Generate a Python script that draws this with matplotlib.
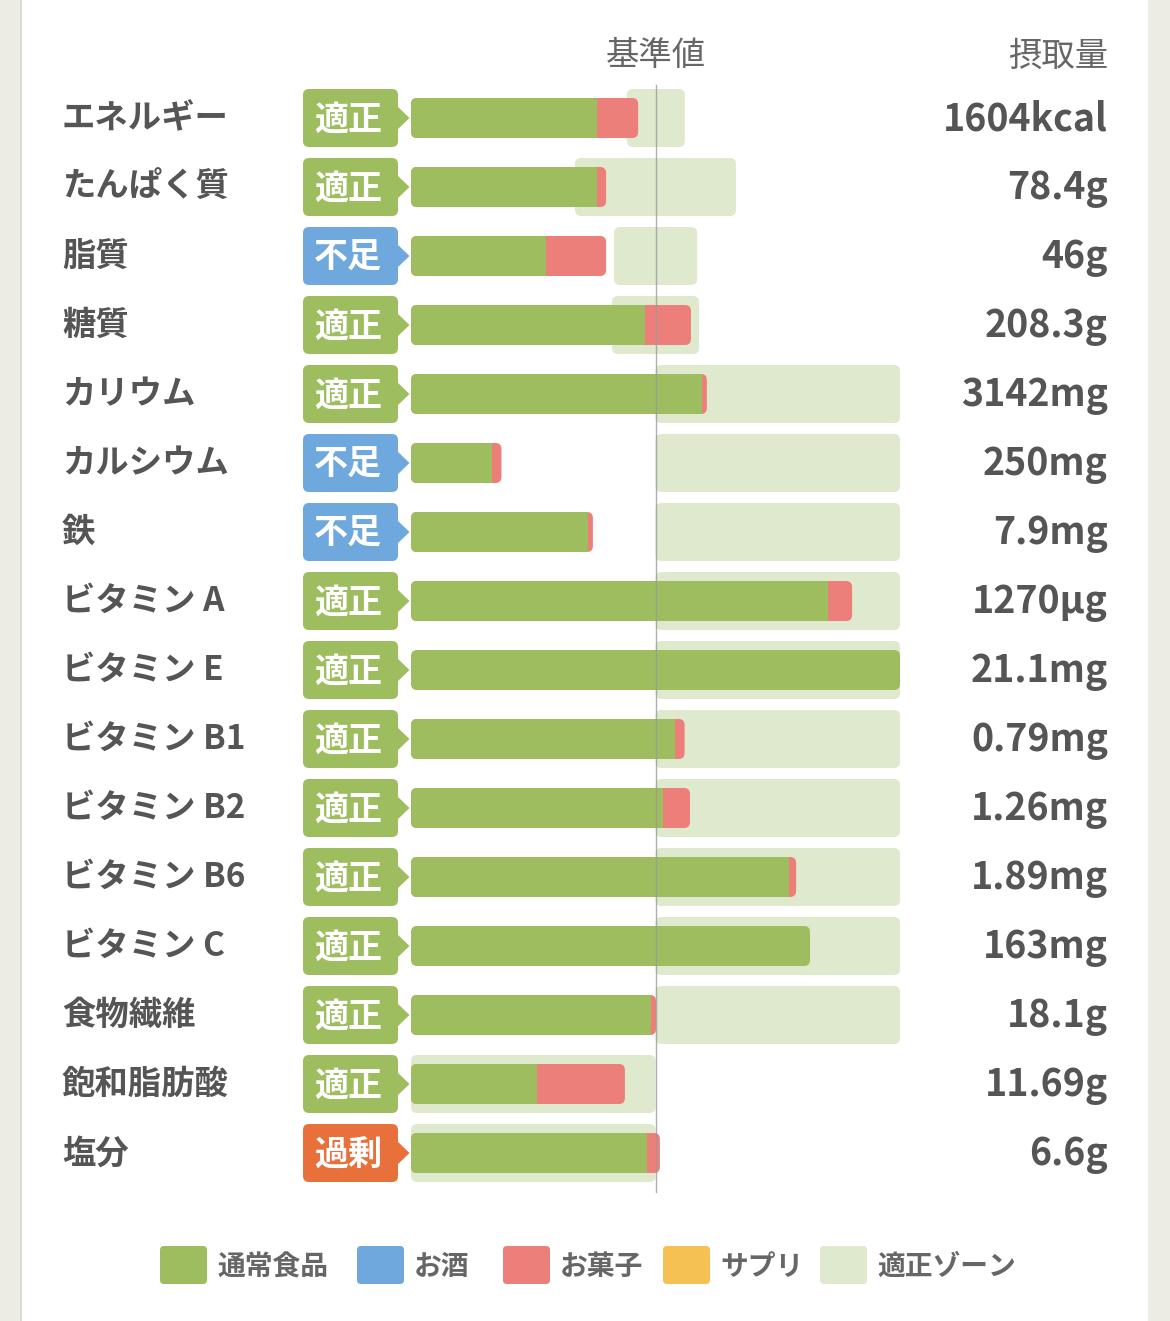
import matplotlib
matplotlib.use("Agg")
import matplotlib.pyplot as plt
from matplotlib.patches import FancyBboxPatch, Rectangle, Polygon

plt.rcParams['font.family'] = ['Noto Sans CJK JP', 'DejaVu Sans']

# ---- data (percent of the reference value) ----
nutrients = ["エネルギー", "たんぱく質", "脂質", "糖質", "カリウム", "カルシウム", "鉄",
             "ビタミン A", "ビタミン E", "ビタミン B1", "ビタミン B2", "ビタミン B6",
             "ビタミン C", "食物繊維", "飽和脂肪酸", "塩分"]
status = ["適正", "適正", "不足", "適正", "適正", "不足", "不足", "適正",
          "適正", "適正", "適正", "適正", "適正", "適正", "適正", "過剰"]
normal_food = [76.1, 76.1, 55.2, 95.7, 118.9, 33.1, 72.4, 170.6,
               200.0, 108.0, 103.0, 154.6, 163.2, 98.2, 51.5, 96.5]
sweets = [16.8, 3.7, 24.6, 18.8, 2.1, 3.9, 2.0, 9.8,
          0.0, 3.9, 11.1, 2.9, 0.0, 2.0, 36.0, 5.3]
zone_lo = [88.3, 67.1, 83.0, 82.2, 100, 100, 100, 100,
           100, 100, 100, 100, 100, 100, 0, 0]
zone_hi = [112.0, 132.9, 117.0, 117.8, 200, 200, 200, 200,
           200, 200, 200, 200, 200, 200, 100, 100]
intake = ["1604kcal", "78.4g", "46g", "208.3g", "3142mg", "250mg", "7.9mg", "1270μg",
          "21.1mg", "0.79mg", "1.26mg", "1.89mg", "163mg", "18.1g", "11.69g", "6.6g"]
legend_labels = ["通常食品", "お酒", "お菓子", "サプリ", "適正ゾーン"]

# ---- styles ----
GREEN = "#9dbd5e"
RED = "#ec7f7a"
ZONE = "#dfe9cd"
BLUE = "#6fa8dc"
ORANGE = "#e8703a"
YELLOW = "#f4c152"
TEXT = "#555555"
badge_colors = {"適正": GREEN, "不足": BLUE, "過剰": ORANGE}
legend_colors = [GREEN, BLUE, RED, YELLOW, ZONE]

W, H = 1170, 1321
X0_PX = 411          # pixel of 0 %
PX_PER_PCT = 2.445   # pixels per percent
Y0_PX = 118          # pixel of first row centre
ROW_PX = 69          # row spacing in pixels


def px2x(px):
    return (px - X0_PX) / PX_PER_PCT


def py2y(py):
    return (py - Y0_PX) / ROW_PX


fig = plt.figure(figsize=(W / 100, H / 100), dpi=100, facecolor="#ecece5")
ax = fig.add_axes([0, 0, 1, 1])
ax.set_xlim(px2x(0), px2x(W))
ax.set_ylim(py2y(H), py2y(0))
ax.axis("off")

# white panel
ax.add_patch(Rectangle((px2x(21), py2y(0)), 1127 / PX_PER_PCT, H / ROW_PX,
                       facecolor="white", edgecolor="none", zorder=0))
ax.plot([px2x(20.5)] * 2, [py2y(0), py2y(H)], color="#dcdcd3", lw=1.5, zorder=0.5)

ASPECT = PX_PER_PCT / ROW_PX
RAD = 6 / PX_PER_PCT


def rbox(x, y, w, h, color, z, rad=RAD):
    p = FancyBboxPatch((x, y), w, h, boxstyle=f"round,pad=0,rounding_size={rad}",
                       mutation_aspect=ASPECT, facecolor=color, edgecolor="none", zorder=z)
    ax.add_patch(p)


bar_h = 40 / ROW_PX
zone_h = 58 / ROW_PX

for i, name in enumerate(nutrients):
    # label
    ax.text(px2x(62), i + 0.01, name, ha="left", va="center", fontsize=24,
            fontweight="bold", color=TEXT)
    # zone
    rbox(zone_lo[i], i - zone_h / 2, zone_hi[i] - zone_lo[i], zone_h, ZONE, 1)
    # bars
    g = min(normal_food[i], 200)
    total = min(normal_food[i] + sweets[i], 200)
    if sweets[i] > 0:
        rbox(0, i - bar_h / 2, total, bar_h, RED, 2)
        rbox(0, i - bar_h / 2, g, bar_h, GREEN, 3)
        ax.add_patch(Rectangle((g - RAD, i - bar_h / 2), RAD, bar_h,
                               facecolor=GREEN, edgecolor="none", zorder=3))
    else:
        rbox(0, i - bar_h / 2, g, bar_h, GREEN, 3)
    # badge
    c = badge_colors[status[i]]
    rbox(px2x(303), i - zone_h / 2, (398 - 303) / PX_PER_PCT, zone_h, c, 2)
    ax.add_patch(Polygon([(px2x(396), i - 13 / ROW_PX), (px2x(409.5), i),
                          (px2x(396), i + 13 / ROW_PX)], closed=True,
                         facecolor=c, edgecolor="none", zorder=2))
    ax.text(px2x(348), i + 0.02, status[i], ha="center", va="center", fontsize=24.5,
            fontweight="bold", color="white", zorder=4)
    # intake value
    ax.text(px2x(1108), i + 0.02, intake[i], ha="right", va="center", fontsize=27,
            fontweight="bold", color=TEXT)

# reference line
ax.plot([100, 100], [py2y(85), py2y(1192)], color="#9a9a9a", lw=1, alpha=0.8, zorder=5)

# headers
ax.text(100, py2y(56), "基準値", ha="center", va="center", fontsize=24, color="#666666")
ax.text(px2x(1108), py2y(56), "摂取量", ha="right", va="center", fontsize=24, color="#666666")

# legend
leg_x = [160, 357, 503, 663, 820]
ly = py2y(1265)
for lx, lab, col in zip(leg_x, legend_labels, legend_colors):
    rbox(px2x(lx), ly - 19 / ROW_PX, 47 / PX_PER_PCT, 38 / ROW_PX, col, 2, rad=4 / PX_PER_PCT)
    ax.text(px2x(lx + 57), ly + 0.03, lab, ha="left", va="center", fontsize=20,
            fontweight="bold", color="#666666")

fig.savefig("out.png", dpi=100, facecolor=fig.get_facecolor())
